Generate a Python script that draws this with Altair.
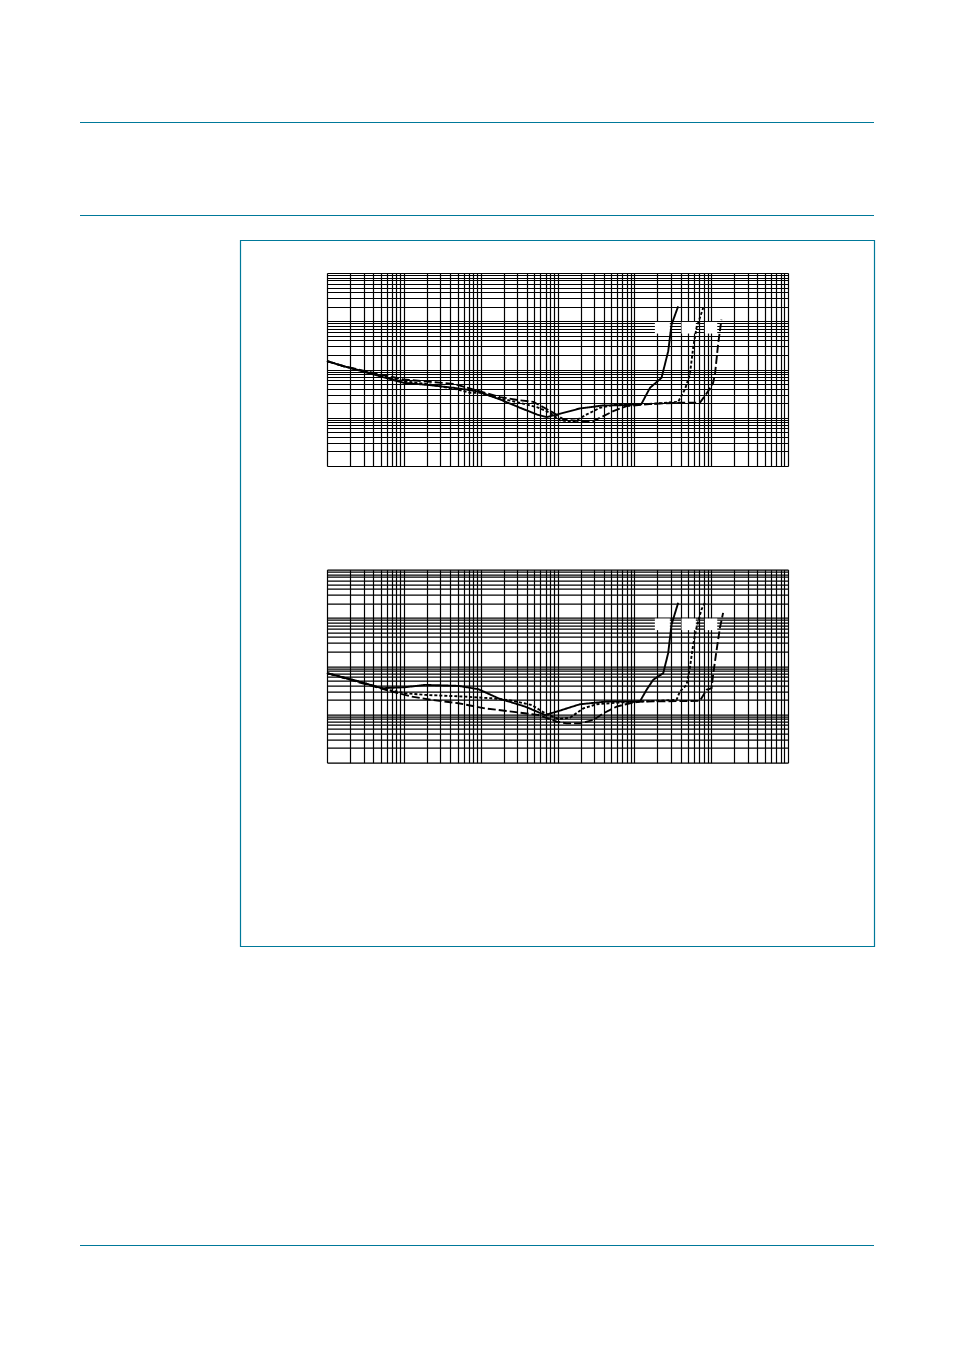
import altair as alt
import pandas as pd

# ---------------- data ----------------
# upper panel
p1_solid_x = [0.001, 0.00165, 0.00404, 0.0099, 0.022, 0.0443, 0.0891, 0.179, 0.326, 0.537, 0.724,
              1.08, 1.96, 3.95, 7.93, 12.4, 16.0, 22.6, 27.6, 30.5, 37.2]
p1_solid_y = [0.149, 0.117, 0.0788, 0.053, 0.0474, 0.0418, 0.0356, 0.0239, 0.0161, 0.0117, 0.0103,
              0.0121, 0.0156, 0.0180, 0.0183, 0.0195, 0.0418, 0.0673, 0.239, 0.853, 2.04]
p1_dotted_x = [0.001, 0.00165, 0.00404, 0.0099, 0.022, 0.049, 0.0729, 0.0984, 0.179, 0.326, 0.537,
               0.800, 1.08, 1.61, 2.40, 3.57, 5.32, 9.68, 17.6, 37.2, 45.5, 52.8, 58.3, 64.4, 78.7]
p1_dotted_y = [0.149, 0.117, 0.0813, 0.0574, 0.0490, 0.0386, 0.0329, 0.0329, 0.0251, 0.0204, 0.0166,
               0.0127, 0.00881, 0.00827, 0.0117, 0.0161, 0.0183, 0.0189, 0.0195, 0.0214, 0.0386,
               0.0788, 0.281, 0.728, 1.89]
p1_dashed_x = [0.001, 0.00165, 0.00404, 0.0099, 0.022, 0.0443, 0.0891, 0.179, 0.326, 0.485, 0.883,
               1.19, 1.96, 2.92, 3.95, 5.32, 7.93, 17.6, 37.2, 71.3, 91.4, 106, 112, 123, 136]
p1_dashed_y = [0.149, 0.117, 0.0853, 0.0621, 0.0556, 0.0505, 0.0368, 0.0268, 0.0229, 0.0214, 0.0127,
               0.00925, 0.00853, 0.00853, 0.0108, 0.0137, 0.0174, 0.0195, 0.0204, 0.0204, 0.0356,
               0.053, 0.0788, 0.329, 1.08]

# lower panel
p2_solid_x = [0.001, 0.00258, 0.00519, 0.0104, 0.019, 0.0514, 0.0935, 0.170, 0.378, 0.689, 0.977,
              1.96, 4.36, 11.8, 14.4, 17.6, 23.8, 27.6, 30.5, 37.2]
p2_solid_y = [0.0715, 0.048, 0.0348, 0.0365, 0.0408, 0.0389, 0.0332, 0.0215, 0.0145, 0.00968, 0.0114,
              0.0162, 0.0184, 0.0184, 0.0321, 0.0519, 0.0715, 0.187, 0.726, 2.05]
p2_dotted_x = [0.001, 0.00258, 0.00573, 0.0104, 0.019, 0.0628, 0.140, 0.254, 0.462, 0.689, 1.03,
               1.46, 2.17, 3.23, 7.18, 35.4, 39.2, 47.8, 52.8, 58.3, 64.4, 74.8, 82.8]
p2_dotted_y = [0.0715, 0.048, 0.0332, 0.0274, 0.0253, 0.0233, 0.0215, 0.0193, 0.0156, 0.0105, 0.0080,
               0.00853, 0.0133, 0.0162, 0.0178, 0.0199, 0.0297, 0.0408, 0.0908, 0.278, 0.619, 1.49, 2.05]
p2_dashed_x = [0.001, 0.00258, 0.0070, 0.0127, 0.0232, 0.0514, 0.114, 0.254, 0.564, 0.977, 1.32,
               1.96, 2.92, 3.95, 5.89, 8.77, 11.8, 71.3, 86.9, 101, 106, 117, 130, 143]
p2_dashed_y = [0.0715, 0.0464, 0.0297, 0.0233, 0.0199, 0.0170, 0.0133, 0.0114, 0.00968, 0.00703,
               0.00649, 0.00649, 0.00762, 0.0105, 0.0145, 0.0170, 0.0184, 0.0190, 0.0321, 0.0348,
               0.0659, 0.202, 0.619, 1.27]

# blanked label boxes (no text inside)
box_x1 = [18.5, 41.1, 82.8]
box_x2 = [29.0, 63.2, 120.0]
box_y1 = [0.556, 0.556, 0.556]
box_y2 = [0.968, 0.968, 0.968]

series_names = ["solid", "dotted", "dashed"]
dash_styles = [[1, 0], [3, 2], [8, 3]]

x_decades = [1e-3, 1e-2, 1e-1, 1, 10, 100]
y_decades = [1e-3, 1e-2, 1e-1, 1]
mults = [1, 2, 3, 4, 5, 6, 7, 8, 9]
x_grid = [round(d * m, 6) for d in x_decades for m in mults] + [1000]
y_grid = [round(d * m, 6) for d in y_decades for m in mults] + [10]

TEAL = "#00799a"


def make_df(sets):
    rows = []
    for name, xs, ys in sets:
        for i, (a, b) in enumerate(zip(xs, ys)):
            rows.append({"series": name, "x": a, "y": b, "i": i})
    return pd.DataFrame(rows)


df1 = make_df([("solid", p1_solid_x, p1_solid_y),
               ("dotted", p1_dotted_x, p1_dotted_y),
               ("dashed", p1_dashed_x, p1_dashed_y)])
df2 = make_df([("solid", p2_solid_x, p2_solid_y),
               ("dotted", p2_dotted_x, p2_dotted_y),
               ("dashed", p2_dashed_x, p2_dashed_y)])
boxes = pd.DataFrame({"x1": box_x1, "x2": box_x2, "y1": box_y1, "y2": box_y2})

xs = alt.Scale(type="log", domain=[1e-3, 1e3], nice=False)
ys = alt.Scale(type="log", domain=[1e-3, 10], nice=False)
xaxis = alt.Axis(values=x_grid, labels=False, ticks=False, domain=False, title=None,
                 grid=True, gridColor="black", gridOpacity=1, gridWidth=1.2)
yaxis = alt.Axis(values=y_grid, labels=False, ticks=False, domain=False, title=None,
                 grid=True, gridColor="black", gridOpacity=1, gridWidth=1.2)

W, H = 461, 193


def panel(df):
    rects = alt.Chart(boxes).mark_rect(fill="white", strokeWidth=0).encode(
        x=alt.X("x1:Q", scale=xs, axis=xaxis),
        x2="x2:Q",
        y=alt.Y("y1:Q", scale=ys, axis=yaxis),
        y2="y2:Q",
    )
    lines = alt.Chart(df).mark_line(color="black", strokeWidth=1.9).encode(
        x=alt.X("x:Q", scale=xs, axis=xaxis),
        y=alt.Y("y:Q", scale=ys, axis=yaxis),
        strokeDash=alt.StrokeDash("series:N",
                                  scale=alt.Scale(domain=series_names, range=dash_styles),
                                  legend=None),
        order="i:Q",
    )
    return [rects, lines]


# page decorations (relative to the upper plot's origin)
one = pd.DataFrame({"k": [0]})


def hline(y, x1, x2):
    return alt.Chart(one).mark_rule(color=TEAL, strokeWidth=1).encode(
        x=alt.value(x1), x2=alt.value(x2), y=alt.value(y))


frame = alt.Chart(one).mark_rect(fillOpacity=0, stroke=TEAL, strokeWidth=1.2).encode(
    x=alt.value(-86.5), x2=alt.value(547.5), y=alt.value(-32.5), y2=alt.value(673.5))

deco = [hline(-150.5, -247, 547), hline(-57.5, -247, 547), hline(972.5, -247, 547), frame]

top = alt.layer(*deco, *panel(df1)).properties(width=W, height=H)
bottom = alt.layer(*panel(df2)).properties(width=W, height=H)

chart = alt.vconcat(top, bottom, spacing=103.6, bounds="flush").properties(
    padding={"left": 71, "top": 113, "right": 0, "bottom": 0}
).configure_view(stroke="black", strokeWidth=1).configure(background="white")

chart.save("out.html", embed_options={"renderer": "svg", "actions": False})
